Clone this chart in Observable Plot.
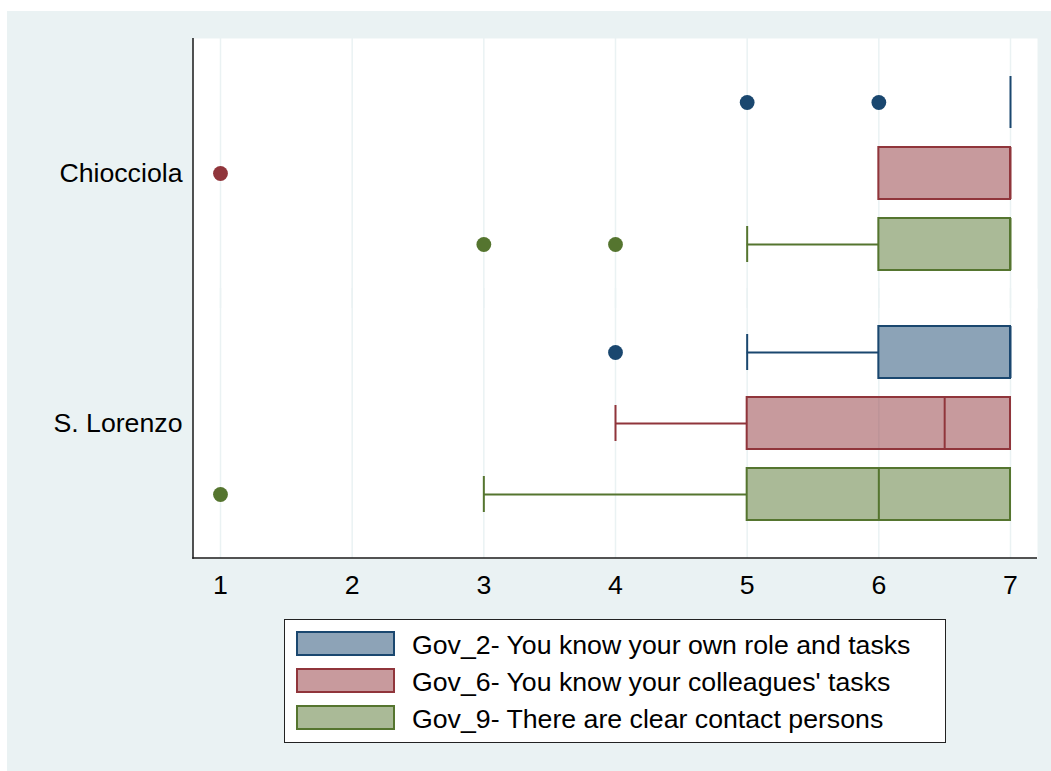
<!DOCTYPE html>
<html>
<head>
<meta charset="utf-8">
<script src="https://cdn.jsdelivr.net/npm/d3@7"></script>
<script src="https://cdn.jsdelivr.net/npm/@observablehq/plot@0.6"></script>
<style>
  body { margin: 0; background: #ffffff; }
  #page { position: relative; width: 1051px; height: 771px; overflow: hidden; font-family: "Liberation Sans", Arial, Helvetica, sans-serif; }
  #bg { position: absolute; left: 7px; top: 11px; right: 0; bottom: 0; background: #EAF2F3; }
  #chart { position: absolute; left: 0; top: 0; }
  #legend { position: absolute; left: 284px; top: 619px; width: 662px; height: 124px; box-sizing: border-box;
            border: 1.5px solid #222; background: #ffffff; padding: 10.5px 0 0 11px; }
  .row { display: flex; align-items: center; height: 25px; margin-bottom: 12px; }
  .swatch { width: 99px; height: 25px; box-sizing: border-box; border: 2px solid; }
  .label { margin-left: 17px; font-size: 26.7px; line-height: 25px; color: #000; position: relative; top: 2px; white-space: nowrap; }
</style>
</head>
<body>
<div id="page">
  <div id="bg"></div>
  <div id="chart"></div>
  <div id="legend"></div>
</div>
<script>
// Sites (one facet each) and survey items (one box per site)
const sites = ["Chiocciola", "S. Lorenzo"];
const variables = ["Gov_2", "Gov_6", "Gov_9"];
const variableLabels = [
  "Gov_2- You know your own role and tasks",
  "Gov_6- You know your colleagues' tasks",
  "Gov_9- There are clear contact persons"
];
const seriesColors = ["#1A476F", "#90353B", "#55752F"];

// Box summaries, indexed [site][variable]
const lowerAdjacent = [[7, 6, 5], [5, 4, 3]];
const lowerQuartile = [[7, 6, 6], [6, 5, 5]];
const medians       = [[7, 7, 7], [7, 6.5, 6]];
const upperQuartile = [[7, 7, 7], [7, 7, 7]];
const outsideValues = [[[5, 6], [1], [3, 4]], [[4], [], [1]]];

// Likert scale ticks
const xTicks = [1, 2, 3, 4, 5, 6, 7];

const boxes = sites.flatMap((site, i) => variables.map((variable, j) => ({
  site, variable,
  lo: lowerAdjacent[i][j], q1: lowerQuartile[i][j], med: medians[i][j], q3: upperQuartile[i][j]
})));
const outliers = sites.flatMap((site, i) => variables.flatMap((variable, j) =>
  outsideValues[i][j].map(value => ({site, variable, value}))));

// Layout
const W = 1051, H = 612;
const mTop = 38, mRight = 14, mBottom = 54, mLeft = 193;
const fyOuter = 0.04;
const facetStep = (H - mTop - mBottom) / (sites.length + 2 * fyOuter);
const facetPad = fyOuter * facetStep;
const xPad = 0.205;
const xDomain = [d3.min(xTicks) - xPad, d3.max(xTicks) + xPad];
const gridColor = "#EAF2F3", axisColor = "#1a1a1a";

const chart = Plot.plot({
  width: W, height: H,
  marginTop: mTop, marginRight: mRight, marginBottom: mBottom, marginLeft: mLeft,
  style: {background: "transparent", fontFamily: "'Liberation Sans', Arial, Helvetica, sans-serif", fontSize: "26.7px", color: "#000"},
  x: {domain: xDomain, ticks: xTicks, tickSize: 10, tickPadding: 17, label: null, tickFormat: d3.format("d")},
  y: {domain: variables, paddingInner: 0.273, paddingOuter: 0.385, axis: null},
  fy: {domain: sites, paddingInner: 0, paddingOuter: fyOuter, axis: "left", tickSize: 0, tickPadding: 11, label: null},
  color: {domain: variables, range: seriesColors},
  marks: [
    Plot.frame({fill: "white", stroke: "none", insetTop: -facetPad, insetBottom: -facetPad}),
    Plot.ruleX(xTicks, {stroke: gridColor, strokeWidth: 1.5, insetTop: -facetPad, insetBottom: -facetPad}),
    // whiskers and caps
    Plot.ruleY(boxes.filter(d => d.lo < d.q1), {x1: "lo", x2: "q1", y: "variable", fy: "site", stroke: "variable", strokeWidth: 2}),
    Plot.tickX(boxes.filter(d => d.lo < d.q1), {x: "lo", y: "variable", fy: "site", stroke: "variable", strokeWidth: 2, insetTop: 8, insetBottom: 8}),
    // boxes and medians
    Plot.barX(boxes, {x1: "q1", x2: "q3", y: "variable", fy: "site", fill: "variable", fillOpacity: 0.5, stroke: "variable", strokeWidth: 2}),
    Plot.tickX(boxes, {x: "med", y: "variable", fy: "site", stroke: "variable", strokeWidth: 2}),
    // outside values
    Plot.dot(outliers, {x: "value", y: "variable", fy: "site", fill: "variable", r: 7.4})
  ]
});

// left and bottom axis lines along the plot area
const [xr0, xr1] = chart.scale("x").range;
const svg = d3.select(chart);
svg.append("line")
  .attr("x1", xr0).attr("x2", xr0)
  .attr("y1", mTop).attr("y2", H - mBottom + 0.75)
  .attr("stroke", axisColor).attr("stroke-width", 1.5);
svg.append("line")
  .attr("x1", xr0 - 0.75).attr("x2", xr1)
  .attr("y1", H - mBottom).attr("y2", H - mBottom)
  .attr("stroke", axisColor).attr("stroke-width", 1.5);

document.getElementById("chart").appendChild(chart);

// legend
const legend = d3.select("#legend");
variables.forEach((v, i) => {
  const row = legend.append("div").attr("class", "row");
  row.append("div").attr("class", "swatch")
    .style("border-color", seriesColors[i])
    .style("background", d3.interpolateRgb(seriesColors[i], "#ffffff")(0.5));
  row.append("div").attr("class", "label").text(variableLabels[i]);
});
</script>
</body>
</html>
